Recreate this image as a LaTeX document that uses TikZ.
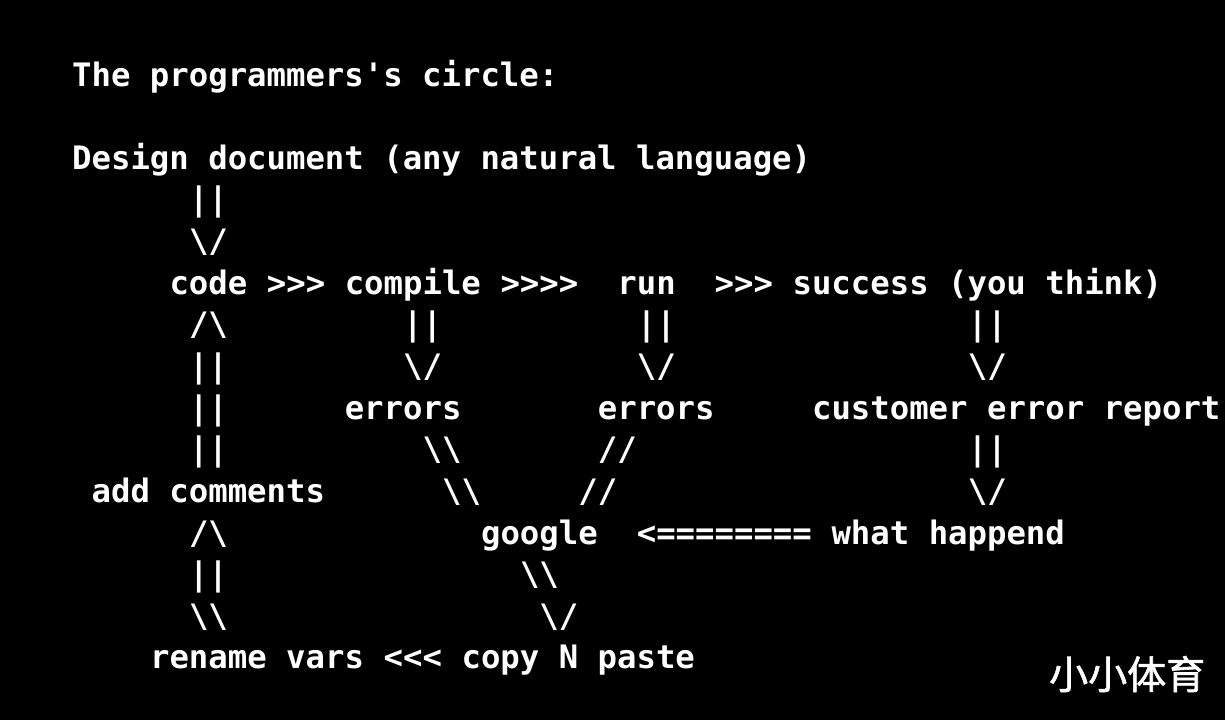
\documentclass[tikz,border=0pt]{standalone}
\usepackage{fontspec}
\setmonofont{DejaVu Sans Mono}
\newfontfamily\cjk{Noto Sans CJK SC}[FakeBold=1.5]
\usetikzlibrary{positioning}
\newcommand{\bs}{\textbackslash}

\begin{document}
\begin{tikzpicture}[x=1pt, y=-1pt,
    ascii/.style={anchor=base west, inner sep=0pt, text=white,
      font=\ttfamily\bfseries\fontsize{32.3}{40}\selectfont}]
    % Hintergrund
    \fill[black] (0,0) rectangle (1225,720);
    \useasboundingbox (0,0) rectangle (1225,720);

    \begin{scope}[x=19.47pt, y=-41.64pt, shift={(72pt,-86pt)}]
    % Titel
    \node[ascii] (title) at (0,0) {The programmers's circle:};
    \node[ascii] (design) at (0,2) {Design document (any natural language)};
    \node[ascii] (dA) at (6,3) {||};
    \node[ascii] (dB) at (6,4) {\bs/};

    % Hauptzeile
    \node[ascii] (code) at (5,5) {code};
    \node[ascii] (arrA) at (10,5) {>>>};
    \node[ascii] (compile) at (14,5) {compile};
    \node[ascii] (arrB) at (22,5) {>>>>};
    \node[ascii] (run) at (28,5) {run};
    \node[ascii] (arrC) at (33,5) {>>>};
    \node[ascii] (success) at (37,5) {success (you think)};

    % Zeilen darunter
    \node[ascii] (upA) at (6,6) {/\bs};
    \node[ascii] (cpA) at (17,6) {||};
    \node[ascii] (rnA) at (29,6) {||};
    \node[ascii] (scA) at (46,6) {||};

    \node[ascii] (upB) at (6,7) {||};
    \node[ascii] (cpB) at (17,7) {\bs/};
    \node[ascii] (rnB) at (29,7) {\bs/};
    \node[ascii] (scB) at (46,7) {\bs/};

    \node[ascii] (upC) at (6,8) {||};
    \node[ascii] (errA) at (14,8) {errors};
    \node[ascii] (errB) at (27,8) {errors};
    \node[ascii] (report) at (38,8) {customer error report};

    \node[ascii] (upD) at (6,9) {||};
    \node[ascii] (eaA) at (18,9) {\bs\bs};
    \node[ascii] (ebA) at (27,9) {//};
    \node[ascii] (rpA) at (46,9) {||};

    \node[ascii] (comments) at (1,10) {add comments};
    \node[ascii] (eaB) at (19,10) {\bs\bs};
    \node[ascii] (ebB) at (26,10) {//};
    \node[ascii] (rpB) at (46,10) {\bs/};

    \node[ascii] (upE) at (6,11) {/\bs};
    \node[ascii] (google) at (21,11) {google};
    \node[ascii] (arrD) at (29,11) {<========};
    \node[ascii] (happend) at (39,11) {what happend};

    \node[ascii] (upF) at (6,12) {||};
    \node[ascii] (ggA) at (23,12) {\bs\bs};

    \node[ascii] (upG) at (6,13) {\bs\bs};
    \node[ascii] (ggB) at (24,13) {\bs/};

    % letzte Zeile
    \node[ascii] (rename) at (4,14) {rename vars};
    \node[ascii] (arrE) at (16,14) {<<<};
    \node[ascii] (paste) at (20,14) {copy N paste};
    \end{scope}

    % Wasserzeichen
    \node[anchor=base west, inner sep=0pt, text=white,
      font=\cjk\fontsize{39}{44}\selectfont] (mark) at (1049,689) {小小体育};
\end{tikzpicture}
\end{document}
